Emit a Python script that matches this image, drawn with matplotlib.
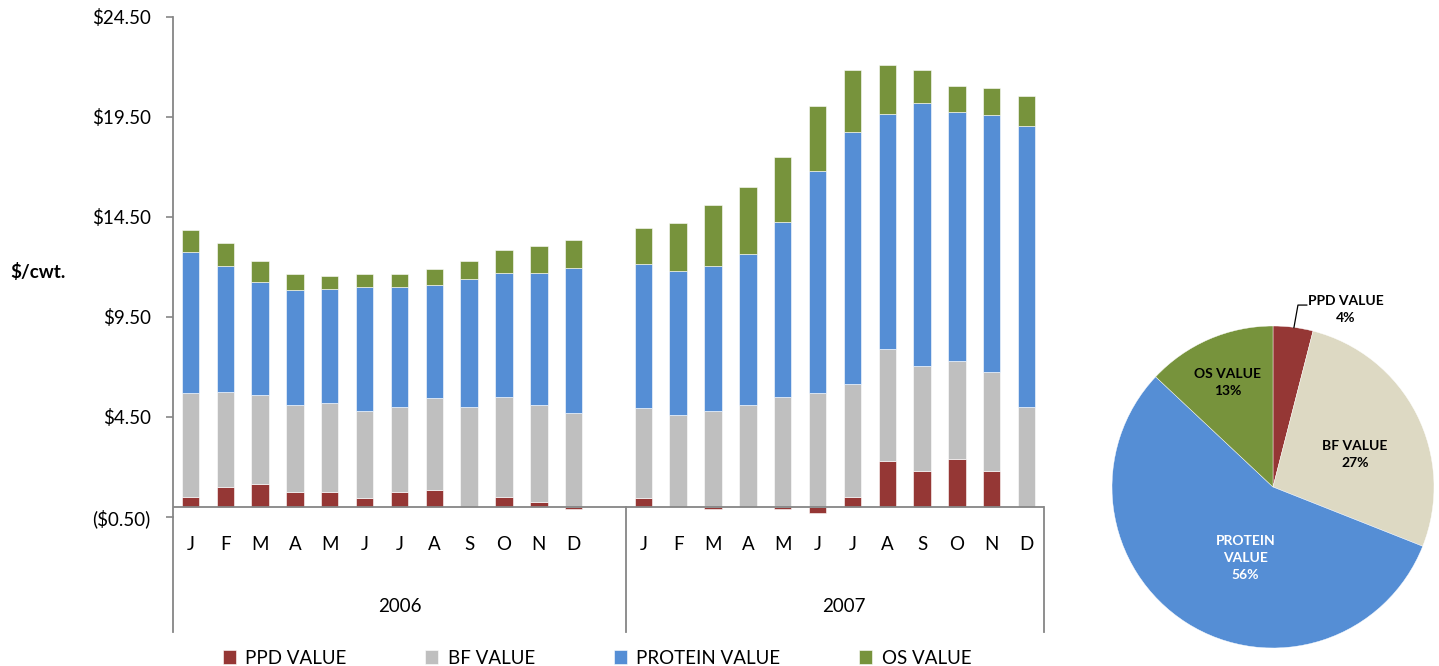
import numpy as np
import matplotlib
matplotlib.use("Agg")
import matplotlib.pyplot as plt

plt.rcParams['font.family'] = ['Lato', 'DejaVu Sans']

# monthly component values, $/cwt
months = ['J', 'F', 'M', 'A', 'M', 'J', 'J', 'A', 'S', 'O', 'N', 'D']
years = ['2006', '2007']
ppd_2006 = [0.52, 1.02, 1.17, 0.77, 0.77, 0.45, 0.77, 0.85, 0.0, 0.52, 0.27, -0.12]
bf_2006 = [5.16, 4.73, 4.43, 4.33, 4.43, 4.33, 4.25, 4.58, 5.02, 5.00, 4.83, 4.70]
protein_2006 = [7.09, 6.30, 5.63, 5.73, 5.70, 6.20, 5.96, 5.65, 6.36, 6.20, 6.62, 7.27]
os_2006 = [1.07, 1.13, 1.05, 0.82, 0.65, 0.67, 0.67, 0.80, 0.90, 1.15, 1.31, 1.38]
ppd_2007 = [0.43, 0.0, -0.12, 0.0, -0.12, -0.28, 0.52, 2.30, 1.82, 2.40, 1.82, 0.0]
bf_2007 = [4.50, 4.60, 4.80, 5.10, 5.52, 5.68, 5.65, 5.60, 5.25, 4.90, 4.93, 5.02]
protein_2007 = [7.20, 7.20, 7.25, 7.53, 8.75, 11.10, 12.56, 11.75, 13.15, 12.43, 12.83, 14.05]
os_2007 = [1.80, 2.38, 3.03, 3.35, 3.25, 3.27, 3.12, 2.45, 1.63, 1.30, 1.37, 1.48]

series_names = ['PPD VALUE', 'BF VALUE', 'PROTEIN VALUE', 'OS VALUE']
bar_colors = ['#953735', '#BFBFBF', '#558ED5', '#77933C']

# pie: share of 2007 value
pie_shares = [4, 27, 56, 13]
pie_colors = ['#953735', '#DDD9C3', '#558ED5', '#77933C']

W, H = 1439, 666
fig = plt.figure(figsize=(W / 100, H / 100), dpi=100)

# ---- stacked bars ----
ax = fig.add_axes([173 / W, 1 - 517 / H, (1044 - 173) / W, 500 / H])
x = np.r_[np.arange(12), np.arange(13, 25)]
data = [ppd_2006 + ppd_2007, bf_2006 + bf_2007,
        protein_2006 + protein_2007, os_2006 + os_2007]
pos = np.zeros(len(x))
neg = np.zeros(len(x))
for vals, name, c in zip(data, series_names, bar_colors):
    v = np.array(vals)
    bottom = np.where(v >= 0, pos, neg)
    ax.bar(x, v, 0.5, bottom=bottom, color=c, label=name,
           edgecolor='white', linewidth=0.4)
    pos += np.where(v >= 0, v, 0)
    neg += np.where(v < 0, v, 0)

ax.set_xlim(-0.5, 24.5)
ax.set_ylim(-0.5, 24.5)
yt = np.arange(-0.5, 25, 5)
ax.set_yticks(yt)
ax.set_yticklabels(['(${:.2f})'.format(-t) if t < 0 else '${:.2f}'.format(t) for t in yt])
ax.tick_params(axis='y', length=5, width=1.2, color='#868686', labelsize=13.5, pad=11)
ax.set_xticks([])
for s in ['top', 'right', 'bottom']:
    ax.spines[s].set_visible(False)
ax.spines['left'].set_color('#868686')
ax.spines['left'].set_linewidth(1.3)
ax.axhline(0, color='#868686', lw=1.3, zorder=3)

# category axis: month labels, year labels and dividers
tr = ax.get_xaxis_transform()
for xi, m in zip(x, months * 2):
    ax.text(xi, -0.056, m, transform=tr, ha='center', va='center', fontsize=13.5)
ax.text(6, -0.18, years[0], transform=tr, ha='center', va='center', fontsize=13.5)
ax.text(18.75, -0.18, years[1], transform=tr, ha='center', va='center', fontsize=13.5)
y0 = (0 + 0.5) / 25
for xv, ytop in [(-0.5, 0), (12.5, y0), (24.5, y0)]:
    ax.plot([xv, xv], [-0.23, ytop], transform=tr, color='#868686', lw=1.3,
            clip_on=False)

fig.text(38 / W, 1 - 272 / H, '$/cwt.', ha='center', va='center',
         fontsize=13.5, fontweight='bold')

fig.legend(loc='center', bbox_to_anchor=(597 / W, 1 - 658 / H), ncol=4,
           frameon=False, fontsize=13.5, handlelength=0.7, handleheight=0.7,
           handletextpad=0.5, columnspacing=4.2)

# ---- pie ----
r = 161
pax = fig.add_axes([(1273 - r) / W, 1 - (487 + r) / H, 2 * r / W, 2 * r / H])
pax.pie(pie_shares, colors=pie_colors, startangle=90, counterclock=False,
        wedgeprops=dict(edgecolor='white', linewidth=0.3))
pax.set_xlim(-1, 1)
pax.set_ylim(-1, 1)
pax.set_aspect('equal')
pax.axis('off')

kw = dict(ha='center', va='center', fontsize=10, fontweight='bold', linespacing=1.5)
pax.text(0.45, 1.10, 'PPD VALUE\n' + '{}%'.format(pie_shares[0]), clip_on=False, **kw)
pax.text(0.51, 0.20, 'BF VALUE\n' + '{}%'.format(pie_shares[1]), **kw)
pax.text(-0.17, -0.44, 'PROTEIN\nVALUE\n' + '{}%'.format(pie_shares[2]), color='white', **kw)
pax.text(-0.28, 0.65, 'OS VALUE\n' + '{}%'.format(pie_shares[3]), **kw)
pax.plot([0.13, 0.155, 0.21], [0.99, 1.13, 1.13], color='black', lw=0.9, clip_on=False)

fig.savefig('out.png', dpi=100)
